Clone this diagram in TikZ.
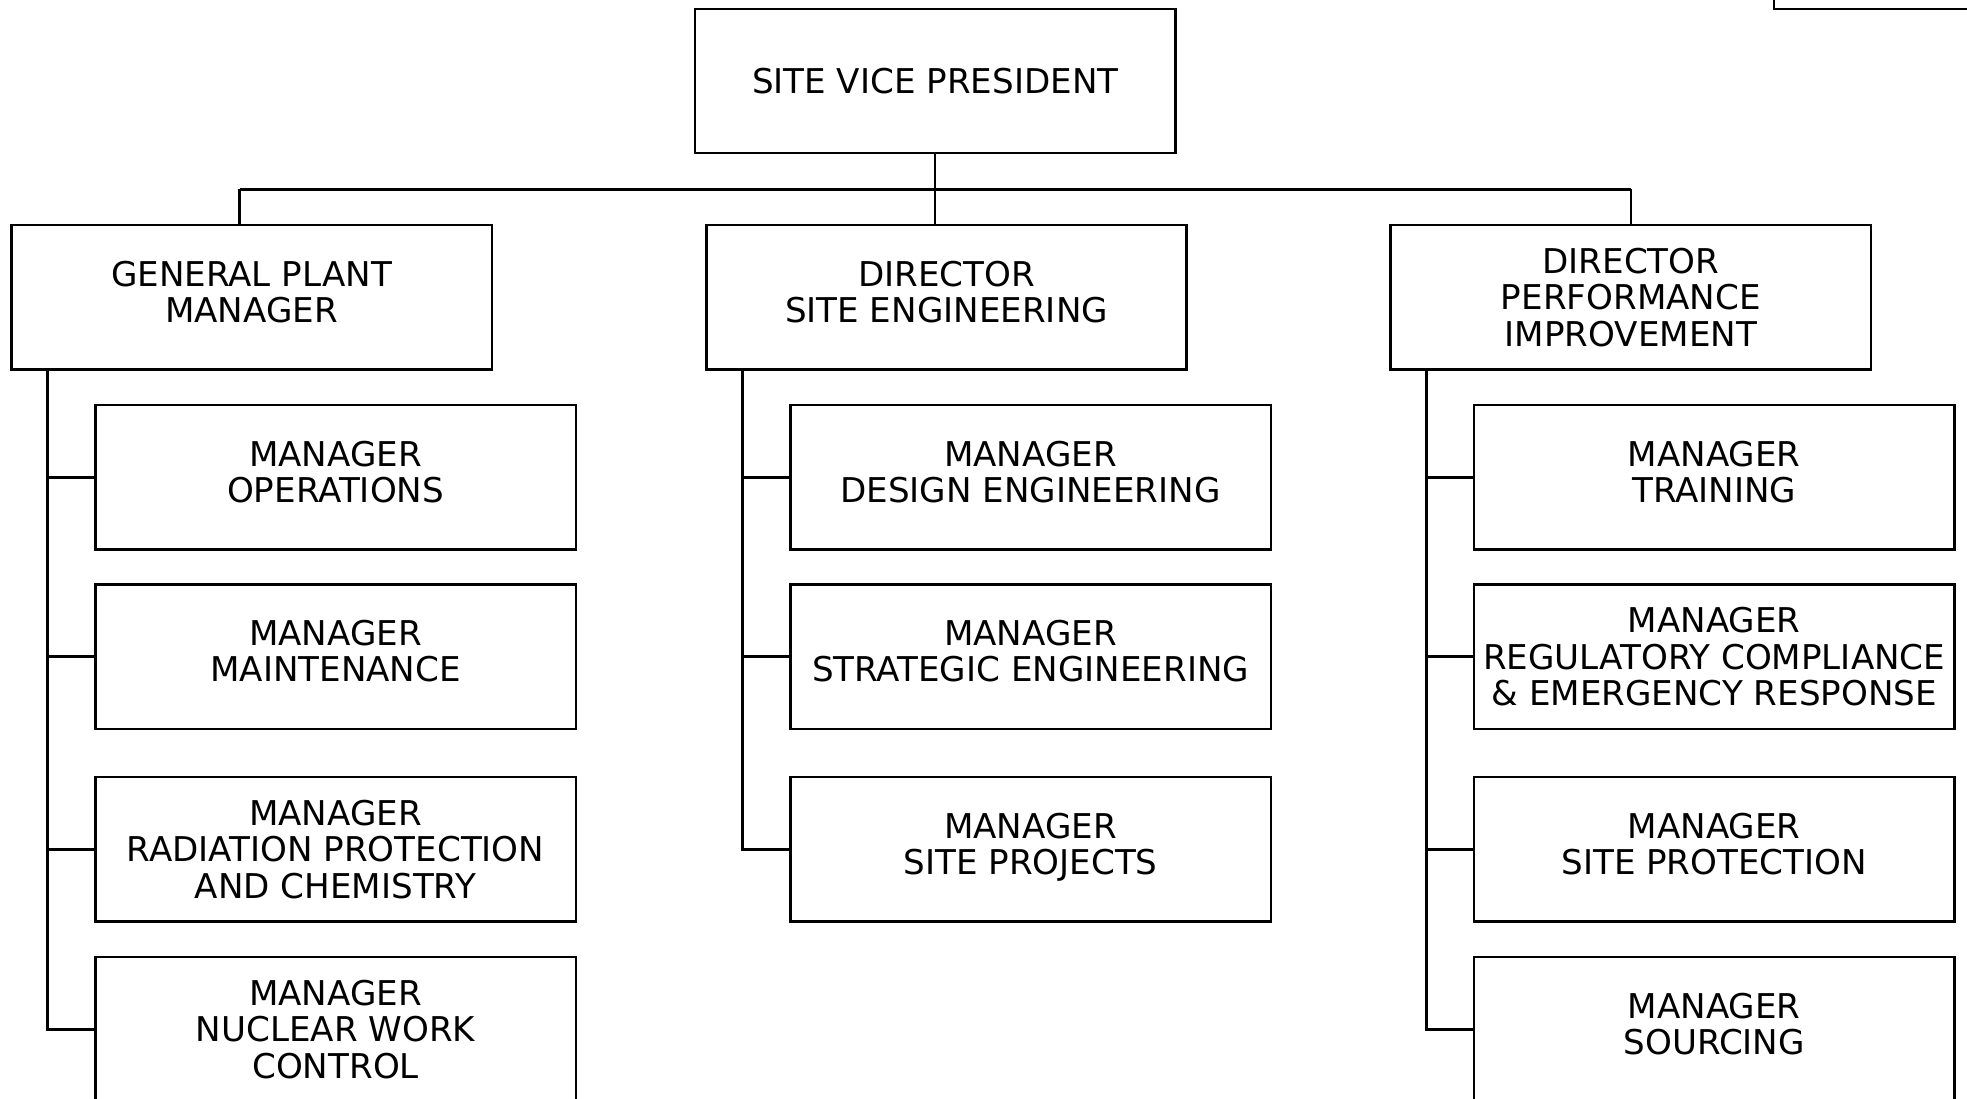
\documentclass[tikz,border=0pt]{standalone}
\usepackage{fontspec}
\setmainfont{DejaVu Sans}
\begin{document}
\begin{tikzpicture}[x=1pt,y=-1pt,
  box/.style={draw=black,line width=2pt,minimum width=383pt,minimum height=115pt,inner sep=0pt,align=center,
    font=\fontsize{27.2}{29}\selectfont},
  two/.style={text depth=9pt},
  conn/.style={draw=black,line width=2pt}]
\useasboundingbox (0,0) rectangle (1568,876);
\clip (0,0) rectangle (1568,876);
% top-right partial box
\draw[line width=2pt] (1414,-60) rectangle (1600,7);
% top
\node[box] (svp) at (745.5,64.5) {SITE VICE PRESIDENT};
\node[box,two] (gpm) at (200.5,237) {GENERAL PLANT\\MANAGER};
\node[box,two] (dse) at (754.5,237) {DIRECTOR\\SITE ENGINEERING};
\node[box] (dpi) at (1300,237) {DIRECTOR\\PERFORMANCE\\IMPROVEMENT};
% left column
\node[box,two] (ops) at (267.5,380.5) {MANAGER\\OPERATIONS};
\node[box,two] (mnt) at (267.5,523.5) {MANAGER\\MAINTENANCE};
\node[box] (rpc) at (267.5,677) {MANAGER\\RADIATION PROTECTION\\AND CHEMISTRY};
\node[box] (nwc) at (267.5,820.5) {MANAGER\\NUCLEAR WORK\\CONTROL};
% middle column
\node[box,two] (des) at (821.5,380.5) {MANAGER\\DESIGN ENGINEERING};
\node[box,two] (str) at (821.5,523.5) {MANAGER\\STRATEGIC ENGINEERING};
\node[box,two] (spr) at (821.5,677) {MANAGER\\SITE PROJECTS};
% right column
\node[box,two] (trn) at (1366.5,380.5) {MANAGER\\TRAINING};
\node[box] (reg) at (1366.5,523.5) {MANAGER\\REGULATORY COMPLIANCE\\\&~EMERGENCY RESPONSE};
\node[box,two] (spt) at (1366.5,677) {MANAGER\\SITE PROTECTION};
\node[box,two] (src) at (1366.5,820.5) {MANAGER\\SOURCING};
% connectors
\coordinate (busL) at (191,151);
\coordinate (busR) at (1300,151);
\coordinate (lsp) at (38,294);
\coordinate (msp) at (592,294);
\coordinate (rsp) at (1137,294);
\draw[conn] (svp.south) -- (svp.south |- dse.north);
\draw[conn] (busL) -- (busR);
\draw[conn] (busL) -- (busL |- gpm.north);
\draw[conn] (busR) -- (dpi.north);
\draw[conn] (lsp) |- (nwc.west);
\draw[conn] (lsp |- ops.west) -- (ops.west);
\draw[conn] (lsp |- mnt.west) -- (mnt.west);
\draw[conn] (lsp |- rpc.west) -- (rpc.west);
\draw[conn] (msp) |- (spr.west);
\draw[conn] (msp |- des.west) -- (des.west);
\draw[conn] (msp |- str.west) -- (str.west);
\draw[conn] (rsp) |- (src.west);
\draw[conn] (rsp |- trn.west) -- (trn.west);
\draw[conn] (rsp |- reg.west) -- (reg.west);
\draw[conn] (rsp |- spt.west) -- (spt.west);
\end{tikzpicture}
\end{document}
